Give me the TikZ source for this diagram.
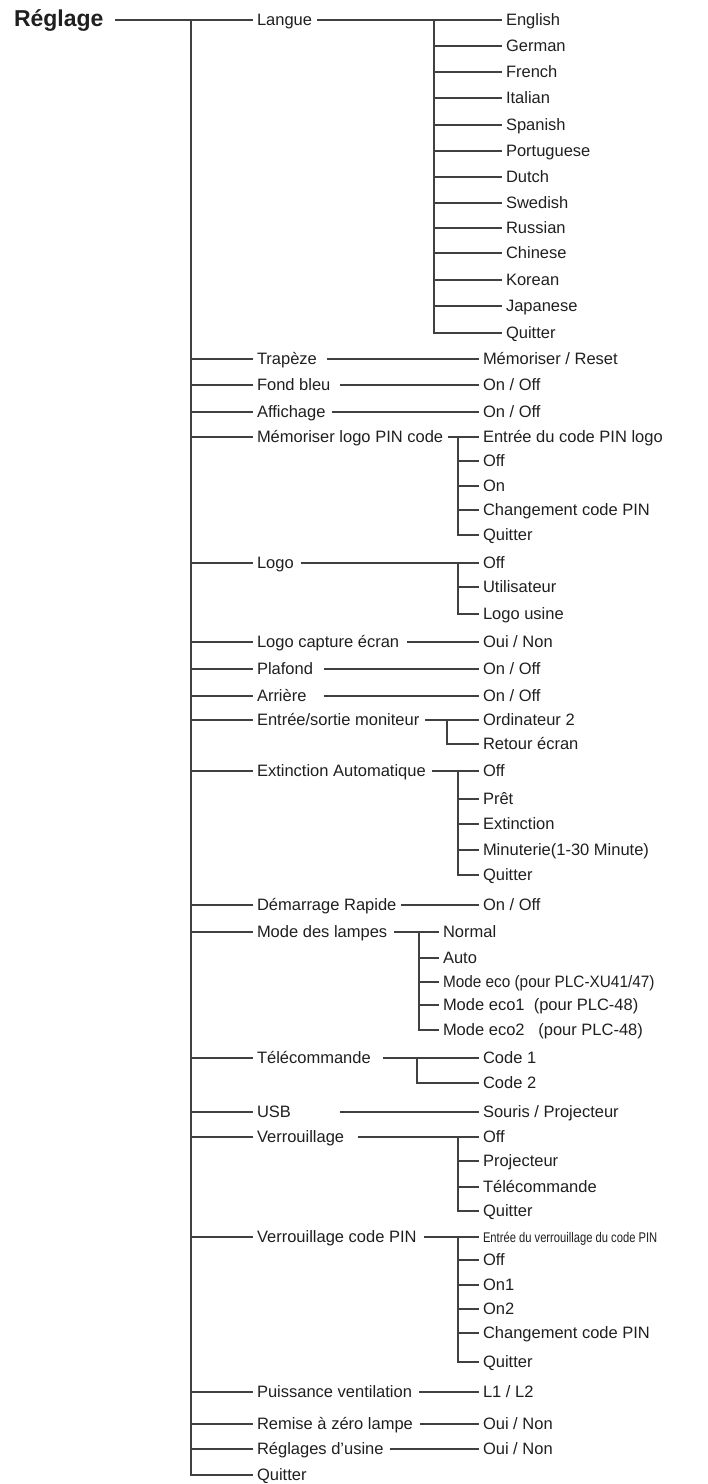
\documentclass[tikz,border=0pt]{standalone}
\usepackage{fontspec}
\usepackage{graphicx}
\setmainfont{Liberation Sans}
\begin{document}
\begin{tikzpicture}[x=1pt,y=-1pt,
  item/.style={inner sep=0pt, outer xsep=4pt, text height=11.8pt, text depth=0pt,
    font=\fontsize{16.5}{18}\selectfont, text=black!88, anchor=west},
  ln/.style={draw=black!75, line width=1.1pt}]
\useasboundingbox (0,0) rectangle (708,1484);
% root
\node[item, font=\bfseries\fontsize{23}{25}\selectfont, text height=16pt] (root) at (10,18) {Réglage};
% level 1
\foreach \n/\y/\t in {l1/20/Langue, l2/359/Trapèze, l3/385/Fond bleu, l4/412/Affichage,
  l5/437/Mémoriser logo PIN code, l6/563/Logo, l7/642/Logo capture écran, l8/669/Plafond,
  l9/696/Arrière, l10/720/Entrée{/}sortie moniteur, l11/771/Extinction Automatique,
  l12/905/Démarrage Rapide, l13/932/Mode des lampes, l14/1058/Télécommande, l15/1112/USB,
  l16/1137/Verrouillage, l17/1237/Verrouillage code PIN, l18/1392/Puissance ventilation,
  l19/1424/Remise à zéro lampe, l20/1449/Réglages d’usine, l21/1475/Quitter}
  \node[item] (\n) at (253,\y) {\t};
\coordinate (mb) at (191,20);
\draw[ln] ([xshift=8pt]root.east |- l1.west) -- (l1.west);
\draw[ln] (mb) |- (l21.west);
\foreach \i in {2,...,20} \draw[ln] (mb |- l\i.west) -- (l\i.west);

% Langue
\foreach \y/\t [count=\i] in {20/English,46/German,72/French,98/Italian,125/Spanish,151/Portuguese,
  177/Dutch,203/Swedish,228/Russian,253/Chinese,280/Korean,306/Japanese,333/Quitter}
  \node[item] (la\i) at (502,\y) {\t};
\coordinate (lab) at (434,20);
\draw[ln] ([xshift=1pt]l1.east) -- (la1.west);
\draw[ln] (lab) |- (la13.west);
\foreach \i in {2,...,12} \draw[ln] (lab |- la\i.west) -- (la\i.west);

% single-value items
\foreach \n/\y/\t in {r2/359/{Mémoriser / Reset}, r3/385/{On / Off}, r4/412/{On / Off},
  r7/642/{Oui / Non}, r8/669/{On / Off}, r9/696/{On / Off}, r12/905/{On / Off},
  r15/1112/{Souris / Projecteur}, r18/1392/{L1 / L2}, r19/1424/{Oui / Non}, r20/1449/{Oui / Non}}
  \node[item] (\n) at (479,\y) {\t};
\draw[ln] ([xshift=6pt]l2.east) -- (r2.west);
\draw[ln] ([xshift=6pt]l3.east) -- (r3.west);
\draw[ln] ([xshift=2pt]l4.east) -- (r4.west);
\draw[ln] ([xshift=4pt]l7.east) -- (r7.west);
\draw[ln] ([xshift=7pt]l8.east) -- (r8.west);
\draw[ln] ([xshift=13pt]l9.east) -- (r9.west);
\draw[ln] ([xshift=1pt]l12.east) -- (r12.west);
\draw[ln] ([xshift=45pt]l15.east) -- (r15.west);
\draw[ln] ([xshift=3pt]l18.east) -- (r18.west);
\draw[ln] ([xshift=3pt]l19.east) -- (r19.west);
\draw[ln] ([xshift=2pt]l20.east) -- (r20.west);

% Memoriser logo PIN code
\foreach \y/\t [count=\i] in {437/Entrée du code PIN logo,461/Off,486/On,510/Changement code PIN,535/Quitter}
  \node[item] (m\i) at (479,\y) {\t};
\coordinate (mbar) at (458,437);
\draw[ln] ([xshift=1pt]l5.east) -- (m1.west);
\draw[ln] (mbar) |- (m5.west);
\foreach \i in {2,3,4} \draw[ln] (mbar |- m\i.west) -- (m\i.west);

% Logo
\foreach \y/\t [count=\i] in {563/Off,587/Utilisateur,614/Logo usine}
  \node[item] (g\i) at (479,\y) {\t};
\coordinate (gbar) at (458,563);
\draw[ln] ([xshift=3pt]l6.east) -- (g1.west);
\draw[ln] (gbar) |- (g3.west);
\draw[ln] (gbar |- g2.west) -- (g2.west);

% Entree/sortie moniteur
\node[item] (e1) at (479,720) {Ordinateur 2};
\node[item] (e2) at (479,744) {Retour écran};
\coordinate (ebar) at (447,720);
\draw[ln] ([xshift=2pt]l10.east) -- (e1.west);
\draw[ln] (ebar) |- (e2.west);

% Extinction Automatique
\foreach \y/\t [count=\i] in {771/Off,799/Prêt,824/Extinction,850/Minuterie(1-30 Minute),875/Quitter}
  \node[item] (x\i) at (479,\y) {\t};
\coordinate (xbar) at (458,771);
\draw[ln] ([xshift=2pt]l11.east) -- (x1.west);
\draw[ln] (xbar) |- (x5.west);
\foreach \i in {2,3,4} \draw[ln] (xbar |- x\i.west) -- (x\i.west);

% Mode des lampes
\node[item] (d1) at (439,932) {Normal};
\node[item] (d2) at (439,958) {Auto};
\node[item] (d3) at (439,982) {\scalebox{0.93}[1]{Mode eco (pour PLC-XU41/47)}};
\node[item] (d4) at (439,1005) {Mode eco1\ \ (pour PLC-48)};
\node[item] (d5) at (439,1030) {Mode eco2\ \ \ (pour PLC-48)};
\coordinate (dbar) at (419,932);
\draw[ln] ([xshift=3pt]l13.east) -- (d1.west);
\draw[ln] (dbar) |- (d5.west);
\foreach \i in {2,3,4} \draw[ln] (dbar |- d\i.west) -- (d\i.west);

% Telecommande
\node[item] (t1) at (479,1058) {Code 1};
\node[item] (t2) at (479,1083) {Code 2};
\coordinate (tbar) at (417,1058);
\draw[ln] ([xshift=8pt]l14.east) -- (t1.west);
\draw[ln] (tbar) |- (t2.west);

% Verrouillage
\foreach \y/\t [count=\i] in {1137/Off,1161/Projecteur,1187/Télécommande,1211/Quitter}
  \node[item] (v\i) at (479,\y) {\t};
\coordinate (vbar) at (458,1137);
\draw[ln] ([xshift=10pt]l16.east) -- (v1.west);
\draw[ln] (vbar) |- (v4.west);
\foreach \i in {2,3} \draw[ln] (vbar |- v\i.west) -- (v\i.west);

% Verrouillage code PIN
\node[item, text height=10pt] (p1) at (479,1237) {\fontsize{14}{16}\selectfont\scalebox{0.8}[1]{Entrée du verrouillage du code PIN}};
\foreach \y/\t [count=\i from 2] in {1260/Off,1285/On1,1309/On2,1333/Changement code PIN,1362/Quitter}
  \node[item] (p\i) at (479,\y) {\t};
\coordinate (pbar) at (458,1237);
\draw[ln] ([xshift=3pt]l17.east) -- (p1.west);
\draw[ln] (pbar) |- (p6.west);
\foreach \i in {2,...,5} \draw[ln] (pbar |- p\i.west) -- (p\i.west);
\end{tikzpicture}
\end{document}
